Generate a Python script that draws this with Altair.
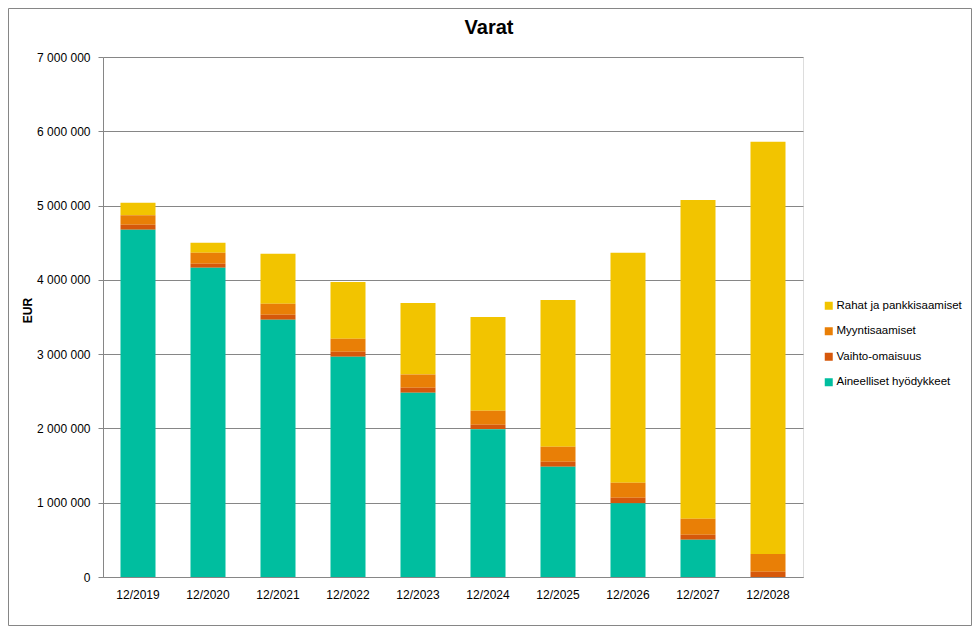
import altair as alt
import pandas as pd

years = ["12/2019", "12/2020", "12/2021", "12/2022", "12/2023",
         "12/2024", "12/2025", "12/2026", "12/2027", "12/2028"]
aineelliset = [4674000, 4163000, 3463000, 2965000, 2480000, 1988000, 1485000, 992000, 502000, 0]
vaihto = [67000, 54000, 67000, 67000, 67000, 62000, 67000, 75000, 67000, 71000]
myynti = [130000, 148000, 148000, 175000, 180000, 188000, 202000, 202000, 216000, 239000]
rahat = [166000, 134000, 673000, 763000, 960000, 1261000, 1974000, 3096000, 4289000, 5549000]

series_names = ["Rahat ja pankkisaamiset", "Myyntisaamiset", "Vaihto-omaisuus", "Aineelliset hyödykkeet"]
series_colors = ["#F2C400", "#E97F06", "#D6580B", "#00BE9F"]
stack_order = {"Aineelliset hyödykkeet": 0, "Vaihto-omaisuus": 1, "Myyntisaamiset": 2, "Rahat ja pankkisaamiset": 3}
chart_title = "Varat"

rows = []
for name, vals in zip(series_names, [rahat, myynti, vaihto, aineelliset]):
    for y, v in zip(years, vals):
        rows.append({"year": y, "series": name, "value": v, "ord": stack_order[name]})
df = pd.DataFrame(rows)

FONT = "Liberation Sans"
GRAY = "#868686"

bars = alt.Chart(df).mark_bar().encode(
    x=alt.X("year:N", sort=years,
            scale=alt.Scale(paddingInner=0.5, paddingOuter=0.25),
            axis=alt.Axis(title=None, labelAngle=0, ticks=False, labelPadding=12,
                          labelFontSize=12, labelFont=FONT, labelColor="#000000",
                          domainColor=GRAY, grid=False)),
    y=alt.Y("value:Q", stack="zero",
            scale=alt.Scale(domain=[0, 7000000], nice=False),
            axis=alt.Axis(title="EUR", values=[0, 1000000, 2000000, 3000000, 4000000, 5000000, 6000000, 7000000],
                          labelExpr="replace(replace(format(datum.value, ','), ',', ' '), ',', ' ')",
                          labelFontSize=12, labelFont=FONT, labelColor="#000000",
                          tickSize=5, tickColor=GRAY, labelPadding=8,
                          domainColor=GRAY, gridColor=GRAY, grid=True,
                          titleFont=FONT, titleFontSize=12, titleFontWeight="bold",
                          titleColor="#000000", titleX=-69, titleY=253)),
    color=alt.Color("series:N",
                    scale=alt.Scale(domain=series_names, range=series_colors),
                    legend=alt.Legend(title=None, orient="none", legendX=720, legendY=243,
                                      symbolType="square", symbolSize=64, symbolStrokeWidth=0,
                                      labelFont=FONT, labelFontSize=11.5, labelColor="#000000",
                                      labelOffset=2, rowPadding=12.5, padding=0)),
    order=alt.Order("ord:Q", sort="ascending"),
)

title = alt.Chart(alt.Data(values=[{"t": chart_title}])).mark_text(
    font=FONT, fontSize=20, fontWeight="bold", color="#000000",
    align="center", baseline="alphabetic"
).encode(text="t:N", x=alt.value(386), y=alt.value(-23))

frame = alt.Chart(alt.Data(values=[{"a": 1}])).mark_rect(
    fill="transparent", stroke=GRAY, strokeWidth=1
).encode(
    x=alt.value(-94.5), x2=alt.value(868.5), y=alt.value(-48.5), y2=alt.value(568.5)
)

chart = alt.layer(bars, title, frame).properties(
    width=700, height=520,
    autosize=alt.AutoSizeParams(type="none"),
    padding={"left": 95, "top": 49, "right": 169, "bottom": 49},
).configure_view(stroke=None).configure(background="white")

chart.save("out.html", embed_options={"renderer": "svg", "actions": False})
